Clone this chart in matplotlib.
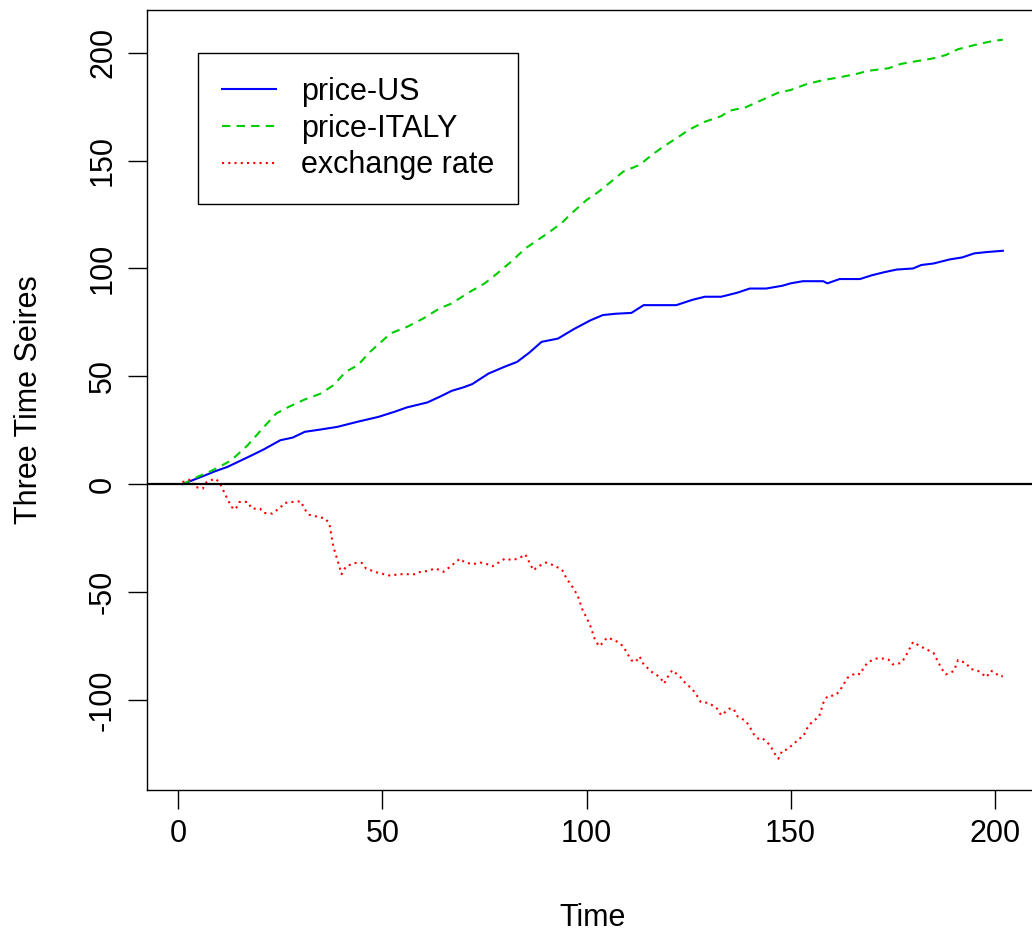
import numpy as np
import matplotlib
matplotlib.use("Agg")
import matplotlib.pyplot as plt

plt.rcParams['font.family'] = ['Liberation Sans', 'DejaVu Sans']
plt.rcParams['axes.unicode_minus'] = False

# price-US (time, value)
t_us = [1, 3, 6, 9, 12, 15, 18, 21, 25, 28, 31, 35, 39, 44, 49, 53, 56, 61, 64, 67,
        70, 72, 76, 80, 83, 86, 89, 93, 97, 101, 104, 107, 111, 114, 118, 122, 126,
        129, 133, 137, 140, 144, 148, 150, 153, 158, 159, 162, 167, 170, 173, 176,
        180, 182, 185, 189, 192, 195, 198, 202]
price_us = [0, 1.5, 3.7, 6.0, 8.0, 10.7, 13.4, 16.2, 20.4, 21.6, 24.3, 25.4, 26.6,
            29.0, 31.2, 33.6, 35.6, 37.9, 40.5, 43.3, 45.0, 46.4, 51.3, 54.5, 56.7,
            61.0, 66.0, 67.5, 72.0, 76.0, 78.4, 79.0, 79.4, 83.0, 83.0, 83.0, 85.5,
            86.9, 86.9, 88.8, 90.7, 90.7, 92.0, 93.1, 94.1, 94.1, 93.1, 95.1, 95.1,
            96.9, 98.3, 99.5, 100.0, 101.6, 102.3, 104.2, 105.1, 107.0, 107.6, 108.2]

# price-ITALY
t_italy = [1, 3, 5, 7, 10, 13, 17, 21, 24, 27, 31, 35, 38, 41, 44, 47, 52, 56, 60,
           64, 67, 71, 75, 78, 82, 85, 88, 91, 94, 96, 100, 103, 106, 109, 113, 116,
           119, 122, 125, 129, 133, 135, 139, 143, 147, 150, 154, 158, 162, 166, 169,
           174, 177, 180, 185, 188, 191, 196, 200, 202]
price_italy = [0, 1.8, 3.7, 5.2, 8.0, 11.1, 18.1, 26.6, 32.8, 35.8, 39.3, 42.1,
               45.9, 52.1, 55.2, 61.4, 69.9, 72.9, 76.8, 81.5, 83.8, 88.7, 93.0,
               97.5, 103.9, 109.3, 113.1, 117.0, 121.2, 125.0, 131.7, 135.6, 140.2,
               144.9, 148.0, 152.6, 156.7, 160.3, 164.2, 168.0, 170.6, 173.1, 174.7,
               178.1, 181.5, 182.7, 185.5, 187.3, 188.6, 190.1, 191.6, 192.8, 194.8,
               195.8, 197.4, 198.9, 201.6, 204.0, 205.6, 206.0]

# exchange rate (rows of ten, times and values line up row by row)
t_ex = [1, 3, 4, 6, 7, 9, 10, 11, 12, 13,
        14, 15, 17, 18, 20, 21, 23, 25, 26, 28,
        30, 31, 32, 36, 37, 38, 39, 40, 41, 43,
        45, 46, 49, 52, 54, 58, 59, 61, 63, 65,
        67, 69, 70, 72, 74, 76, 77, 79, 80, 82,
        84, 85, 87, 88, 90, 92, 94, 95, 96, 97,
        98, 99, 100, 101, 102, 103, 104, 105, 107, 109,
        110, 111, 112, 113, 114, 116, 118, 119, 120, 121,
        123, 124, 126, 127, 128, 130, 132, 133, 135, 136,
        137, 139, 140, 141, 142, 143, 145, 146, 147, 148,
        149, 151, 152, 153, 154, 155, 157, 158, 159, 161,
        162, 163, 164, 166, 167, 168, 169, 171, 173, 174,
        175, 177, 178, 179, 180, 182, 183, 185, 186, 187,
        188, 190, 191, 193, 194, 196, 198, 199, 200, 201,
        202]
exch = [1.0, 2.2, -1.2, -2.0, 1.1, 2.6, 1.1, -2.8, -6.6, -10.5,
        -11.7, -8.2, -8.2, -11.3, -11.3, -13.3, -13.6, -10.8, -8.7, -8.2,
        -7.9, -11.7, -14.1, -15.9, -18.2, -29.1, -35.2, -41.7, -38.3, -36.5,
        -36.5, -39.1, -41.1, -42.4, -41.7, -41.7, -40.8, -40.2, -39.0, -40.6,
        -37.6, -34.5, -36.0, -37.1, -36.3, -37.2, -38.0, -35.7, -34.5, -35.2,
        -33.7, -32.5, -39.9, -38.3, -36.3, -37.6, -39.6, -43.3, -46.1, -48.8,
        -52.5, -58.1, -61.8, -66.0, -71.6, -75.0, -73.6, -71.1, -72.3, -75.1,
        -78.5, -81.6, -82.4, -79.8, -83.5, -87.0, -89.4, -92.4, -89.0, -86.2,
        -89.4, -91.7, -95.2, -97.8, -100.9, -101.4, -104.0, -107.1, -104.0, -104.0,
        -107.6, -109.7, -112.5, -115.9, -117.9, -117.5, -121.0, -124.6, -127.2, -123.3,
        -123.0, -120.0, -117.9, -117.2, -113.3, -110.7, -107.6, -101.4, -98.3, -97.8,
        -95.8, -92.7, -89.6, -87.5, -88.1, -84.7, -82.4, -80.8, -80.8, -81.3,
        -83.5, -82.9, -80.4, -76.7, -73.1, -75.4, -76.2, -78.2, -81.9, -85.5,
        -88.1, -86.6, -81.5, -82.9, -85.5, -86.6, -89.4, -86.5, -87.0, -89.0,
        -89.0]

x_ticks = [0, 50, 100, 150, 200]
y_ticks = [-100, -50, 0, 50, 100, 150, 200]

fig = plt.figure(figsize=(10.32, 9.33), dpi=100)
ax = fig.add_axes([0.1427, 0.1533, 0.8631, 0.8360])

ax.plot(t_us, price_us, color='#0000ff', lw=1.5, ls='-', label='price-US')
ax.plot(t_italy, price_italy, color='#00cd00', lw=1.5, ls=(0, (4, 3)), label='price-ITALY')
ax.plot(t_ex, exch, color='#ff0000', lw=1.5, ls=(0, (1, 2)), label='exchange rate')
ax.axhline(0, color='black', lw=1.6)

ax.set_xlim(-7.6, 210.6)
ax.set_ylim(-141.7, 219.8)
ax.set_xticks(x_ticks)
ax.set_yticks(y_ticks)
ax.tick_params(direction='out', length=14, width=1, labelsize=22, pad=7, color='black')
for lbl in ax.get_yticklabels():
    lbl.set_rotation(90)
    lbl.set_va('center')
for s in ax.spines.values():
    s.set_linewidth(1)
    s.set_color('black')

ax.set_xlabel('Time', fontsize=22, labelpad=39)
ax.set_ylabel('Three Time Seires', fontsize=22, labelpad=32)

leg = ax.legend(loc='upper left', bbox_to_anchor=(0.0569, 0.9449), fontsize=22,
                frameon=True, fancybox=False, edgecolor='black', framealpha=1,
                handlelength=1.76, handletextpad=0.82, borderpad=0.78, labelspacing=0.22,
                borderaxespad=0)
leg.get_frame().set_linewidth(1)

fig.savefig('out.png', dpi=100)
